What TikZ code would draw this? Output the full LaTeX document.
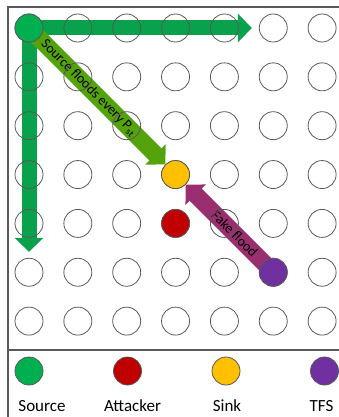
\documentclass[tikz,border=0pt]{standalone}
\usepackage{fontspec}
\setmainfont{Carlito}
\usepackage{xcolor}
\usepackage{tikz}
\usetikzlibrary{positioning,arrows.meta,backgrounds}
\definecolor{srcgreen}{HTML}{00B050}
\definecolor{flowgreen}{HTML}{0AA14C}
\definecolor{diaggreen}{HTML}{55A30C}
\definecolor{attred}{HTML}{C00000}
\definecolor{sinkyellow}{HTML}{FFC000}
\definecolor{tfspurple}{HTML}{7030A0}
\definecolor{fakepurple}{HTML}{992F6E}
\definecolor{rimgray}{HTML}{595959}

\begin{document}
\begin{tikzpicture}[x=1pt, y=-1pt, every node/.style={font=\fontsize{14}{16}\selectfont},
  cell/.style={circle, draw=rimgray, line width=0.8pt, minimum size=28pt, inner sep=0pt},
  flow/.style={line width=15pt, -{Triangle[width=28pt,length=14pt]}},
  legtext/.style={font=\fontsize{17}{20}\selectfont, inner sep=0pt, anchor=base}]
\useasboundingbox (0,0) rectangle (339,417);
\draw[rimgray, line width=1.2pt] (339,7) -- (8,7) -- (8,417);
\draw[rimgray, line width=1.2pt] (8,350) -- (339,350);
\foreach \i in {0,...,6}
  \foreach \j in {0,...,6}
    \node[cell] (n\i\j) at (29+48.85*\i, 28+48.85*\j) {};
\node[cell, fill=srcgreen] (src) at (n00) {};
\node[cell, fill=sinkyellow] (sink) at (n33) {};
\node[cell, fill=attred] (att) at (n34) {};
\node[cell, fill=tfspurple] (tfs) at (n55) {};
\begin{scope}[on background layer]
\draw[flow, flowgreen, shorten >=7pt] (src.center) -- (n50);
\draw[flow, flowgreen, shorten >=6pt] (src.center) -- (n05);
\draw[flow, diaggreen, line width=17pt] (src.center) -- node[sloped, pos=0.44, text=black] {Source floods every P\textsubscript{st}} (sink);
\draw[flow, fakepurple, line width=17pt] (tfs.center) -- node[sloped, pos=0.44, text=black] {Fake flood} (sink);
\end{scope}
\node[cell, fill=srcgreen] (lsrc) at (29,371) {};
\node[cell, fill=attred, right=69.7pt of lsrc] (latt) {};
\node[cell, fill=sinkyellow, right=69.7pt of latt] (lsink) {};
\node[cell, fill=tfspurple, right=69.7pt of lsink] (ltfs) {};
\node[legtext] (tsrc) at ([xshift=13pt, yshift=-26pt]lsrc.south) {Source};
\node[legtext] (tatt) at ([xshift=5pt, yshift=-26pt]latt.south) {Attacker};
\node[legtext] (tsink) at ([xshift=1pt, yshift=-26pt]lsink.south) {Sink};
\node[legtext] (ttfs) at ([xshift=-3pt, yshift=-26pt]ltfs.south) {TFS};
\end{tikzpicture}
\end{document}
